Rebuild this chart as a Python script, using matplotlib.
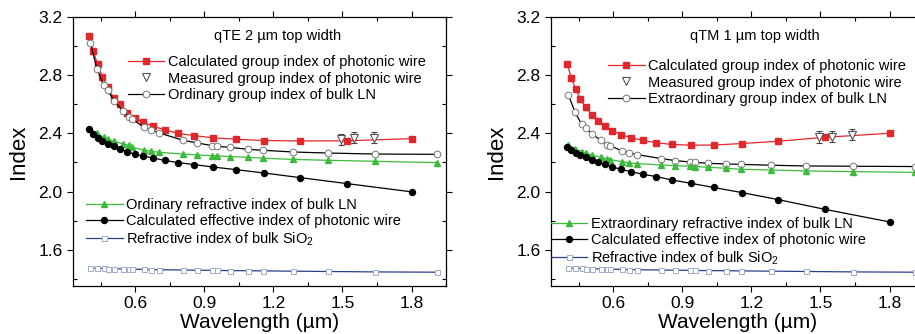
import matplotlib
matplotlib.use('Agg')
import matplotlib.pyplot as plt
from matplotlib.ticker import MultipleLocator

plt.rcParams['font.family'] = ['Liberation Sans', 'DejaVu Sans']
plt.rcParams['mathtext.default'] = 'regular'

# wavelengths (um)
wl_calc = [0.40, 0.418, 0.437, 0.457, 0.48, 0.506, 0.532, 0.565, 0.597, 0.633,
           0.678, 0.728, 0.787, 0.854, 0.936, 1.036, 1.158, 1.315, 1.518, 1.80]
wl_bulk = [0.405, 0.434, 0.463, 0.48, 0.509, 0.547, 0.571, 0.586, 0.639, 0.668, 0.705,
           0.807, 0.87, 0.934, 0.957, 1.012, 1.091, 1.156, 1.286, 1.437, 1.64, 1.912]
wl_meas_te = [1.492, 1.551, 1.637]
wl_meas_tm = [1.492, 1.549, 1.636]

# qTE 2 um
te_group_calc = [3.07, 2.965, 2.875, 2.79, 2.72, 2.645, 2.60, 2.54, 2.505, 2.478,
                 2.449, 2.425, 2.40, 2.385, 2.37, 2.36, 2.351, 2.348, 2.349, 2.364]
te_group_bulk = [3.024, 2.845, 2.731, 2.696, 2.623, 2.552, 2.513, 2.497, 2.444, 2.426, 2.403,
                 2.353, 2.334, 2.316, 2.311, 2.304, 2.29, 2.284, 2.272, 2.265, 2.258, 2.256]
te_n_bulk = [2.43, 2.40, 2.375, 2.363, 2.345, 2.328, 2.318, 2.305, 2.285, 2.277, 2.27,
             2.258, 2.252, 2.247, 2.245, 2.241, 2.235, 2.229, 2.221, 2.215, 2.208, 2.199]
te_n_eff = [2.428, 2.399, 2.368, 2.346, 2.33, 2.311, 2.295, 2.275, 2.256, 2.245,
            2.231, 2.214, 2.199, 2.186, 2.169, 2.151, 2.128, 2.096, 2.055, 1.998]
te_meas = [2.36, 2.37, 2.37]
te_meas_err = [0.037, 0.037, 0.037]

# qTM 1 um
tm_group_calc = [2.88, 2.782, 2.705, 2.637, 2.581, 2.529, 2.485, 2.449, 2.419, 2.392,
                 2.37, 2.352, 2.336, 2.324, 2.319, 2.32, 2.33, 2.346, 2.373, 2.401]
tm_group_bulk = [2.667, 2.547, 2.463, 2.44, 2.394, 2.353, 2.323, 2.316, 2.279, 2.268, 2.254,
                 2.227, 2.213, 2.203, 2.201, 2.194, 2.19, 2.187, 2.181, 2.176, 2.174, 2.172]
tm_n_bulk = [2.32, 2.295, 2.275, 2.265, 2.25, 2.235, 2.225, 2.22, 2.205, 2.198, 2.192,
             2.183, 2.178, 2.174, 2.172, 2.167, 2.16, 2.153, 2.148, 2.142, 2.137, 2.132]
tm_n_eff = [2.305, 2.285, 2.268, 2.252, 2.236, 2.22, 2.203, 2.187, 2.17, 2.153,
            2.137, 2.119, 2.103, 2.08, 2.057, 2.028, 1.993, 1.945, 1.878, 1.791]
tm_meas = [2.375, 2.378, 2.392]
tm_meas_err = [0.04, 0.04, 0.04]

# bulk SiO2
n_sio2 = [1.475, 1.473, 1.471, 1.470, 1.469, 1.467, 1.466, 1.466, 1.464, 1.463, 1.462,
          1.460, 1.459, 1.458, 1.457, 1.456, 1.455, 1.454, 1.452, 1.450, 1.447, 1.445]

RED = '#e3262b'
GREEN = '#3dba3d'
BLUE_LINE = '#2c3e8c'
BLUE_MK = '#9eabcb'


def panel(ax, title, grp_calc, grp_bulk, n_bulk, n_eff, wl_meas, meas, meas_err,
          grp_label, n_label, up_pos, low_pos):
    h_red, = ax.plot(wl_calc, grp_calc, '-s', color=RED, ms=4, lw=0.9,
                     label='Calculated group index of photonic wire')
    h_bulk, = ax.plot(wl_bulk, grp_bulk, '-o', color='black', mfc='white', mec='#777777',
                      mew=0.7, ms=4.8, lw=0.9, label=grp_label)
    h_green, = ax.plot(wl_bulk, n_bulk, '-^', color=GREEN, ms=5, lw=0.9, label=n_label)
    h_eff, = ax.plot(wl_calc, n_eff, '-o', color='black', ms=4.3, lw=0.9,
                     label='Calculated effective index of photonic wire')
    h_sio2, = ax.plot(wl_bulk, n_sio2, '-s', color=BLUE_LINE, mfc='white', mec=BLUE_MK,
                      mew=0.7, ms=3.6, lw=0.9, label='Refractive index of bulk SiO$_2$')
    ax.errorbar(wl_meas, meas, yerr=meas_err, fmt='none', ecolor='#444444',
                elinewidth=0.8, capsize=2.5, capthick=0.8)
    h_meas, = ax.plot(wl_meas, meas, 'v', ls='none', mfc='white', mec='#555555', mew=0.8,
                      ms=5.5, label='Measured group index of photonic wire')

    ax.set_xlim(0.33, 1.95)
    ax.set_ylim(1.35, 3.2)
    ax.xaxis.set_major_locator(MultipleLocator(0.3))
    ax.xaxis.set_minor_locator(MultipleLocator(0.15))
    ax.yaxis.set_major_locator(MultipleLocator(0.4))
    ax.yaxis.set_minor_locator(MultipleLocator(0.2))
    ax.tick_params(which='both', top=True, right=True, labelsize=12.5, width=0.8)
    ax.tick_params(which='major', direction='out', length=4)
    ax.tick_params(which='minor', direction='in', length=3)
    for s in ax.spines.values():
        s.set_linewidth(0.9)
    ax.set_xlabel('Wavelength (µm)', fontsize=15, labelpad=1)
    ax.set_ylabel('Index', fontsize=16, labelpad=7)

    ax.text(0.547, 0.93, title, transform=ax.transAxes, ha='center', va='center',
            fontsize=10.5)

    kw = dict(loc='upper left', frameon=False, fontsize=10.5, numpoints=1,
              handlelength=2.5, handletextpad=0.25, labelspacing=0.15,
              borderpad=0, borderaxespad=0)
    leg1 = ax.legend(handles=[h_red, h_meas, h_bulk], bbox_to_anchor=up_pos, **kw)
    ax.add_artist(leg1)
    ax.legend(handles=[h_green, h_eff, h_sio2], bbox_to_anchor=low_pos, **kw)


fig = plt.figure(figsize=(9.15, 3.34), dpi=100)
ax1 = fig.add_axes([0.0798, 0.1437, 0.4077, 0.805])
ax2 = fig.add_axes([0.6022, 0.1437, 0.4077, 0.805])

panel(ax1, 'qTE 2 µm top width', te_group_calc, te_group_bulk, te_n_bulk, te_n_eff,
      wl_meas_te, te_meas, te_meas_err, 'Ordinary group index of bulk LN',
      'Ordinary refractive index of bulk LN', (0.147, 0.858), (0.035, 0.328))
panel(ax2, 'qTM 1 µm top width', tm_group_calc, tm_group_bulk, tm_n_bulk, tm_n_eff,
      wl_meas_tm, tm_meas, tm_meas_err, 'Extraordinary group index of bulk LN',
      'Extraordinary refractive index of bulk LN', (0.153, 0.843), (0.0, 0.257))

fig.savefig('out.png', dpi=100)
